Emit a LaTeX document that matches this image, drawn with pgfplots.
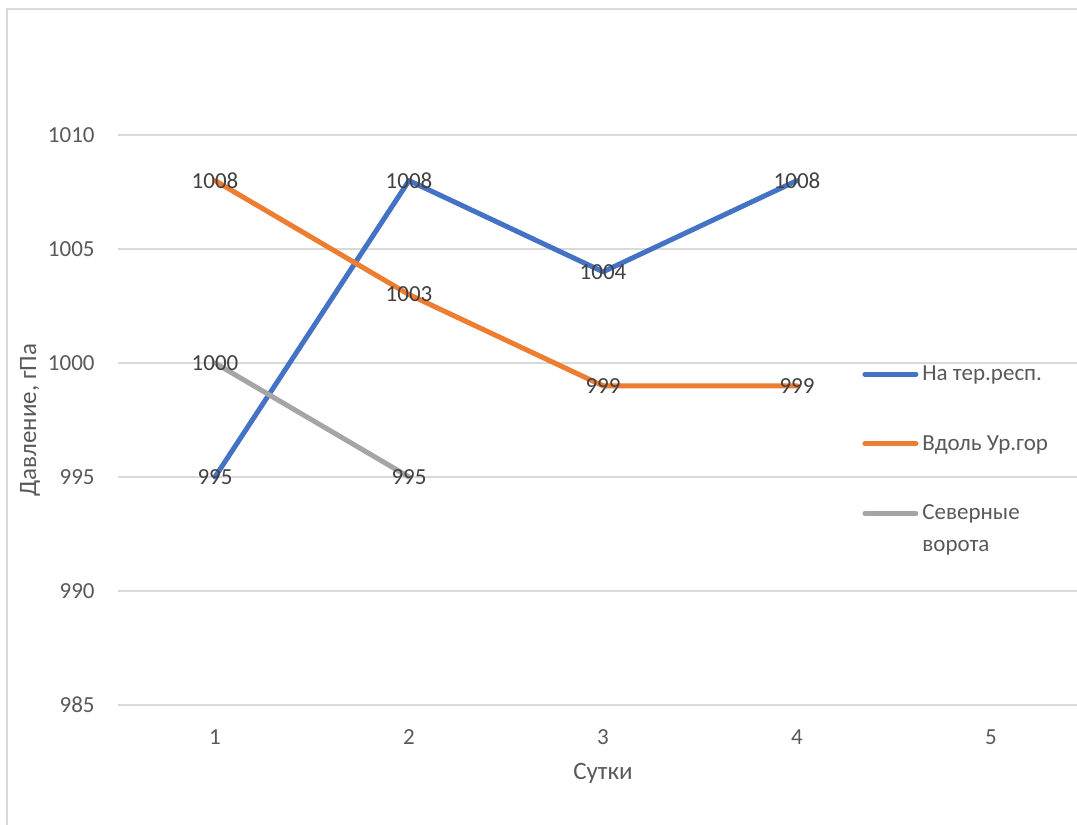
\documentclass[border=0pt]{standalone}
\usepackage{fontspec}
\setmainfont{Carlito}
\usepackage{pgfplots}
\pgfplotsset{compat=1.18}

\definecolor{cBlue}{HTML}{4472C4}
\definecolor{cOrange}{HTML}{ED7D31}
\definecolor{cGray}{HTML}{A5A5A5}
\definecolor{gridc}{HTML}{D9D9D9}
\definecolor{tickc}{HTML}{595959}
\definecolor{labc}{HTML}{404040}

\newcommand{\chartfont}{\fontsize{11.5}{16}\selectfont}

\begin{document}
\begin{tikzpicture}
% chart area: 538.5pt x 412.5pt, frame visible on the left and top
\path[use as bounding box] (0,0) rectangle (538.5pt,412.5pt);
\draw[gridc, line width=0.75pt] (3.5pt,0) -- (3.5pt,408pt) -- (538.5pt,408pt);
\begin{axis}[
  at={(59pt,60pt)}, anchor=south west,
  scale only axis, width=479.5pt, height=285pt,
  xmin=0.5, xmax=5.443, ymin=985, ymax=1010,
  xtick={1,2,3,4,5}, ytick={985,990,...,1010},
  axis line style={draw=none}, major tick length=0pt,
  ymajorgrids, grid style={gridc, line width=1pt},
  /pgf/number format/1000 sep={},
  /pgf/number format/assume math mode=true,
  tick label style={font=\chartfont, text=tickc, inner sep=0pt},
  xticklabel style={anchor=center, yshift=-16pt},
  yticklabel style={anchor=east, xshift=-11.5pt},
  xlabel={Сутки},
  ylabel={Давление, гПа},
  label style={font=\fontsize{12.5}{15}\selectfont, text=tickc},
  xlabel style={at={(axis description cs:0.5057,0)}, anchor=center, yshift=-34pt},
  ylabel style={at={(axis description cs:-0.0918,0.5)}, anchor=center},
  nodes near coords,
  nodes near coords style={anchor=center, font=\chartfont, text=labc, inner sep=0pt},
  legend cell align=left,
  legend image code/.code={\draw[#1, line width=2.5pt, line cap=round] (1.25pt,3.2pt) -- (26.75pt,3.2pt);},
  legend style={
    at={(axis description cs:0.7758,0.5978)}, anchor=north west,
    draw=none, fill=none, inner sep=0pt, row sep=25.3pt, column sep=2pt,
    font=\chartfont, text=tickc,
    nodes={inner sep=0pt},
    cells={anchor=base west, text height=8pt, text depth=3pt},
  },
  every axis plot/.append style={line width=2.5pt, line cap=round, line join=round},
]
\addplot[cBlue] coordinates {(1,995) (2,1008) (3,1004) (4,1008)};
\addlegendentry{На тер.респ.}
\addplot[cOrange] coordinates {(1,1008) (2,1003) (3,999) (4,999)};
\addlegendentry{Вдоль Ур.гор}
\addplot[cGray] coordinates {(1,1000) (2,995)};
\addlegendentry{\vtop{\hbox{Северные}\hbox{ворота}}}
\end{axis}
\end{tikzpicture}
\end{document}
